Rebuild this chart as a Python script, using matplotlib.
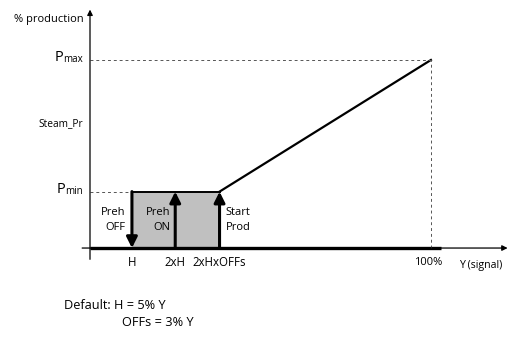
import matplotlib.pyplot as plt

plt.rcParams['font.family'] = ['Open Sans', 'DejaVu Sans']

# diagram values (signal % on x, production % on y)
switch_x = [12.3, 25.0, 38.0]
switch_labels = ['H', '2xH', '2xHxOFFs']
switch_texts = ['Preh\nOFF', 'Preh\nON', 'Start\nProd']
y_max = 100.0
p_min = 30.0
p_max = 100.0

fig = plt.figure(figsize=(5.1, 3.43), dpi=100)
ax = fig.add_axes([0, 0, 1, 1])
ax.set_xlim(-26.4, 123.2)
ax.set_ylim(-50.5, 131.9)
ax.axis('off')

# axes of the diagram
ax.annotate('', xy=(0, 126.8), xytext=(0, -6),
            arrowprops=dict(arrowstyle='-|>', lw=0.9, color='k', mutation_scale=8,
                            shrinkA=0, shrinkB=0))
ax.annotate('', xy=(122.5, 0), xytext=(-2.3, 0),
            arrowprops=dict(arrowstyle='-|>', lw=0.9, color='k', mutation_scale=8,
                            shrinkA=0, shrinkB=0))
ax.plot([0, 103], [0, 0], color='k', lw=2.4, solid_capstyle='butt')

# shaded band and production line
ax.fill_between([switch_x[0], switch_x[2]], 0, p_min, color='#c0c0c0', lw=0)
ax.plot([switch_x[0], switch_x[2]], [p_min, p_min], color='k', lw=1.4)
ax.plot([switch_x[2], y_max], [p_min, p_max], color='k', lw=1.6)

# dashed guide lines
ax.plot([0, switch_x[0]], [p_min, p_min], color='#555555', lw=0.7, ls=(0, (3, 3)))
ax.plot([0, y_max], [p_max, p_max], color='#555555', lw=0.7, ls=(0, (3, 3)))
ax.plot([y_max, y_max], [0, p_max], color='#555555', lw=0.7, ls=(0, (3, 3)))

# switching arrows
arrow = dict(arrowstyle='-|>', lw=2.2, color='k', mutation_scale=16, shrinkA=0, shrinkB=0)
ax.annotate('', xy=(switch_x[0], 0), xytext=(switch_x[0], p_min), arrowprops=arrow)
ax.annotate('', xy=(switch_x[1], p_min), xytext=(switch_x[1], 0), arrowprops=arrow)
ax.annotate('', xy=(switch_x[2], p_min), xytext=(switch_x[2], 0), arrowprops=arrow)

ax.text(switch_x[0] - 1.8, 15, switch_texts[0], ha='right', va='center',
        multialignment='right', fontsize=8, linespacing=1.45)
ax.text(switch_x[1] - 1.5, 15, switch_texts[1], ha='right', va='center',
        multialignment='right', fontsize=8, linespacing=1.45)
ax.text(switch_x[2] + 1.8, 15, switch_texts[2], ha='left', va='center',
        multialignment='left', fontsize=8, linespacing=1.45)

# tick labels
for x, lab in zip(switch_x, switch_labels):
    ax.text(x, -7.5, lab, ha='center', va='center', fontsize=8.3)
ax.text(y_max - 0.8, -7.5, '100%', ha='center', va='center', fontsize=8)
ax.text(114.5, -9.3, 'Y (signal)', ha='center', va='center', fontsize=7.7)

# y labels
ax.text(-2, 121.3, '% production', ha='right', va='center', fontsize=8)
ax.text(-2, 66, 'Steam_Pr', ha='right', va='center', fontsize=7.3)
for val, sub in [(p_max, 'max'), (p_min, 'min')]:
    t = ax.text(-2, val, sub, ha='right', va='center', fontsize=7)
    ax.annotate('P', xy=(0, 0), xycoords=t, ha='right', va='bottom', fontsize=10.5)

# footnote
ax.text(-7.6, -30.3, 'Default: H = 5% Y', ha='left', va='center', fontsize=9.2)
ax.text(9.4, -39.4, 'OFFs = 3% Y', ha='left', va='center', fontsize=9.2)

fig.savefig('out.png', dpi=100)
